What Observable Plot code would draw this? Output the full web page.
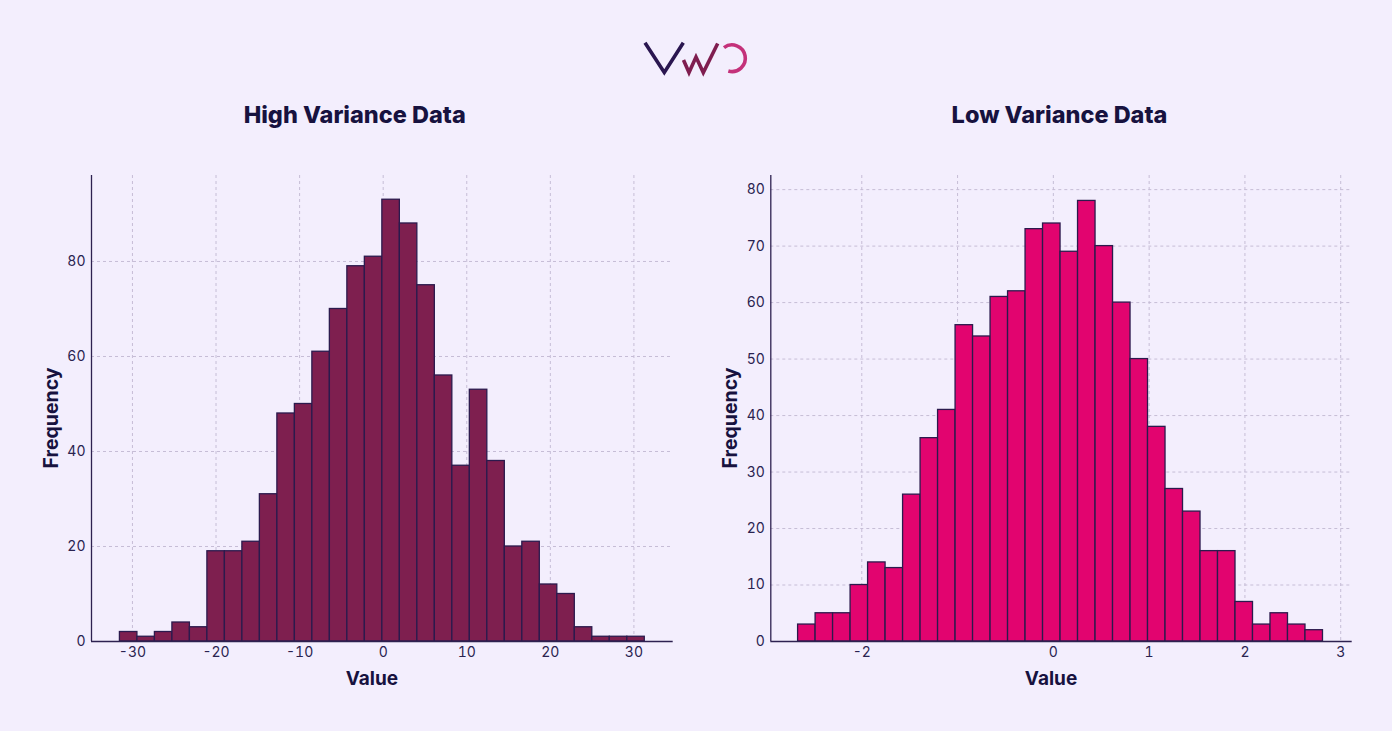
<!DOCTYPE html>
<html>
<head>
<meta charset="utf-8">
<script src="https://cdn.jsdelivr.net/npm/d3@7"></script>
<script src="https://cdn.jsdelivr.net/npm/@observablehq/plot@0.6"></script>
<style>
  html, body { margin: 0; padding: 0; }
  body { width: 1392px; height: 731px; background: #f3eefd; position: relative; overflow: hidden; font-family: Inter, "Noto Sans", sans-serif; }
  #overlay { position: absolute; left: 0; top: 0; }
  .chart { position: absolute; top: 150px; }
  #left { left: 0px; }
  #right { left: 700px; }
</style>
</head>
<body>
<svg id="overlay" width="1392" height="150" xmlns="http://www.w3.org/2000/svg">
  <polyline points="645,42.7 664.3,72.5 683.3,42.7" fill="none" stroke="#2a1650" stroke-width="3.6" stroke-linejoin="miter"/>
  <polyline points="683.5,60 689,72.5 696,57 703.3,72.5 717.7,43.5" fill="none" stroke="#7f1d4f" stroke-width="3.6" stroke-linejoin="miter"/>
  <path id="logoO" fill="none" stroke="#c4317a" stroke-width="3.6"/>
  <text x="354.7" y="123" text-anchor="middle" font-family="Inter" font-weight="800" font-size="23.5" fill="#17123f">High Variance Data</text>
  <text x="1059.5" y="123" text-anchor="middle" font-family="Inter" font-weight="800" font-size="23.5" fill="#17123f">Low Variance Data</text>
</svg>
<div id="left" class="chart"></div>
<div id="right" class="chart"></div>
<script>
// ---- Data ----
const highCounts = [2, 1, 2, 4, 3, 19, 19, 21, 31, 48, 50, 61, 70, 79, 81, 93, 88, 75, 56, 37, 53, 38, 20, 21, 12, 10, 3, 1, 1, 1];
const highBinRange = [-31.5, 31.3];
const highXTicks = [-30, -20, -10, 0, 10, 20, 30];
const highXTickLabels = ["-30", "-20", "-10", "0", "10", "20", "30"];
const highYTicks = [0, 20, 40, 60, 80];
const highXDomain = [-34.9, 34.7];
const highYDomain = [0, 98.1];

const lowCounts = [3, 5, 5, 10, 14, 13, 26, 36, 41, 56, 54, 61, 62, 73, 74, 69, 78, 70, 60, 50, 38, 27, 23, 16, 16, 7, 3, 5, 3, 2];
const lowBinRange = [-2.665, 2.815];
const lowXTicks = [-2, -1, 0, 1, 2, 3];
const lowXTickLabels = ["-2", "", "0", "1", "2", "3"];
const lowYTicks = [0, 10, 20, 30, 40, 50, 60, 70, 80];
const lowXDomain = [-2.95, 3.12];
const lowYDomain = [0, 82.5];

const titleColor = "#17123f";
const textColor = "#2a2350";
const axisColor = "#2d2150";
const gridColor = "#c6bdd6";
const barStroke = "#2b1a4d";

// logo O arc
(function () {
  const cx = 732, cy = 58.2, r = 13.3;
  const a1 = -127 * Math.PI / 180, a2 = 106 * Math.PI / 180;
  const p = `M${cx + r * Math.cos(a1)},${cy + r * Math.sin(a1)} A${r},${r} 0 1 1 ${cx + r * Math.cos(a2)},${cy + r * Math.sin(a2)}`;
  document.getElementById("logoO").setAttribute("d", p);
})();

function toBins(counts, range) {
  const [lo, hi] = range;
  const w = (hi - lo) / counts.length;
  return counts.map((c, i) => ({x1: lo + i * w, x2: lo + (i + 1) * w, count: c}));
}

function histogram({counts, binRange, xTicks, xTickLabels, yTicks, xDomain, yDomain, fill, width, marginLeft, marginRight}) {
  const bins = toBins(counts, binRange);
  const labelMap = new Map(xTicks.map((t, i) => [t, xTickLabels[i]]));
  return Plot.plot({
    width,
    height: 560,
    marginLeft,
    marginRight,
    marginTop: 25,
    marginBottom: 69,
    style: {background: "transparent", fontFamily: "Inter, 'Noto Sans', sans-serif", fontSize: "14px", color: textColor, overflow: "visible"},
    x: {domain: xDomain},
    y: {domain: yDomain},
    marks: [
      Plot.gridX(xTicks, {stroke: gridColor, strokeOpacity: 1, strokeWidth: 1, strokeDasharray: "3,3"}),
      Plot.gridY(yTicks.filter((t) => t > 0), {stroke: gridColor, strokeOpacity: 1, strokeWidth: 1, strokeDasharray: "3,3"}),
      Plot.rect(bins, {x1: "x1", x2: "x2", y1: 0, y2: "count", fill, stroke: barStroke, strokeWidth: 1.3}),
      Plot.ruleY([yDomain[0]], {stroke: axisColor, strokeWidth: 1.3}),
      Plot.ruleX([xDomain[0]], {stroke: axisColor, strokeWidth: 1.3}),
      Plot.axisX(xTicks, {tickSize: 0, tickPadding: 6, tickFormat: (d) => labelMap.get(d), label: null, fill: textColor, fontSize: 14}),
      Plot.axisY(yTicks, {tickSize: 0, tickPadding: 6, tickFormat: (d) => String(d), label: null, fill: textColor, fontSize: 14}),
      Plot.text(["Frequency"], {frameAnchor: "left", textAnchor: "middle", lineAnchor: "middle", rotate: -90, dx: -40, dy: 9.5, fontSize: 19.5, fontWeight: 700, fill: titleColor}),
      Plot.text(["Value"], {frameAnchor: "bottom", textAnchor: "middle", lineAnchor: "middle", dx: -10.5, dy: 37, fontSize: 19, fontWeight: 700, fill: titleColor})
    ]
  });
}

document.getElementById("left").append(histogram({
  counts: highCounts, binRange: highBinRange, xTicks: highXTicks, xTickLabels: highXTickLabels,
  yTicks: highYTicks, xDomain: highXDomain, yDomain: highYDomain, fill: "#7e1f4f",
  width: 700, marginLeft: 91, marginRight: 27.3
}));
document.getElementById("right").append(histogram({
  counts: lowCounts, binRange: lowBinRange, xTicks: lowXTicks, xTickLabels: lowXTickLabels,
  yTicks: lowYTicks, xDomain: lowXDomain, yDomain: lowYDomain, fill: "#e2046f",
  width: 692, marginLeft: 70.3, marginRight: 40.3
}));
</script>
</body>
</html>
